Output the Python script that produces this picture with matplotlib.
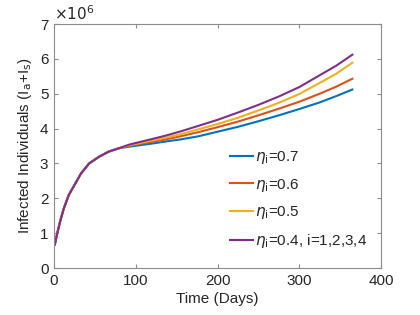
import matplotlib
matplotlib.use("Agg")
import matplotlib.pyplot as plt

plt.rcParams['font.family'] = ['Liberation Sans', 'DejaVu Sans']
plt.rcParams['mathtext.fontset'] = 'dejavusans'

# Time points (days) and infected counts (in units of 1e6)
t_early = [1, 4, 8, 12, 18, 25, 33, 43, 55, 67, 80]
y_early = [0.67, 1.0, 1.38, 1.71, 2.09, 2.38, 2.71, 3.0, 3.19, 3.34, 3.44]
t_late = [92, 104, 120, 137, 155, 177, 200, 225, 250, 275, 300, 325, 345, 365]
eta07 = [3.48, 3.52, 3.57, 3.63, 3.69, 3.78, 3.91, 4.05, 4.21, 4.38, 4.56, 4.75, 4.93, 5.12]
eta06 = [3.50, 3.56, 3.62, 3.69, 3.78, 3.90, 4.04, 4.20, 4.38, 4.57, 4.77, 5.00, 5.20, 5.43]
eta05 = [3.52, 3.58, 3.66, 3.74, 3.84, 3.98, 4.13, 4.31, 4.52, 4.74, 4.99, 5.31, 5.57, 5.89]
eta04 = [3.54, 3.61, 3.70, 3.80, 3.92, 4.08, 4.25, 4.46, 4.68, 4.92, 5.19, 5.53, 5.80, 6.12]

labels = [r'$\eta_{\rm i}$=0.7', r'$\eta_{\rm i}$=0.6', r'$\eta_{\rm i}$=0.5',
          r'$\eta_{\rm i}$=0.4, i=1,2,3,4']
colors = ['#0072BD', '#D95319', '#EDB120', '#7E2F8E']
series = [eta07, eta06, eta05, eta04]

fig = plt.figure(figsize=(4.2, 3.15), dpi=100)
ax = fig.add_axes([54/420, 47/315, 327/420, 244/315])

scale = 1e6
for vals, c, lab in zip(series, colors, labels):
    tt = t_early + t_late
    yy = [v * scale for v in y_early + vals]
    ax.plot(tt, yy, color=c, lw=1.5, label=lab, solid_joinstyle='round')

ax.set_xlim(0, 400)
ax.set_ylim(0, 7e6)
ax.set_xticks([0, 100, 200, 300, 400])
ax.set_yticks([i * 1e6 for i in range(8)])
ax.set_yticklabels([str(i) for i in range(8)])

for s in ax.spines.values():
    s.set_color('#8c8c8c')
    s.set_linewidth(0.8)
ax.tick_params(direction='in', length=3, width=0.8, color='#8c8c8c',
               top=True, right=True, labelsize=11, labelcolor='#262626', pad=4)

ax.set_xlabel('Time (Days)', fontsize=11, color='#262626', labelpad=3)
ax.set_ylabel(r'Infected Individuals (I$_{\rm a}$+I$_{\rm s}$)', fontsize=11,
              color='#262626', labelpad=4)
ax.text(0.0, 1.005, r'$\times 10^{6}$', transform=ax.transAxes, fontsize=11,
        color='#262626', ha='left', va='bottom')

leg = ax.legend(loc='center left', bbox_to_anchor=(0.538, 0.281), frameon=False,
                handlelength=1.5, handletextpad=0.15, labelspacing=0.7,
                borderpad=0, borderaxespad=0, fontsize=11)
for txt in leg.get_texts():
    txt.set_color('#262626')

fig.savefig('out.png', dpi=100)
